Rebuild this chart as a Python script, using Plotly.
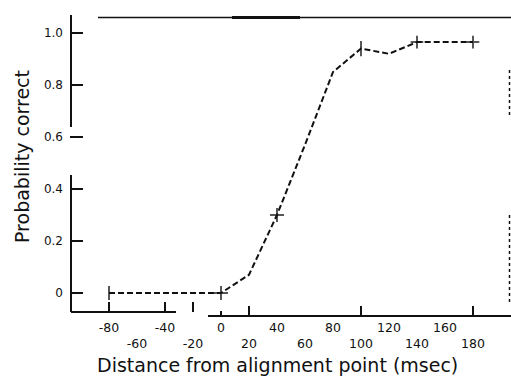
import plotly.graph_objects as go

# Psychometric data: probability correct vs. distance from the alignment point
ms = [-80, 0, 20, 40, 60, 80, 100, 120, 140, 180]
p_correct = [0.0, 0.0, 0.07, 0.30, 0.57, 0.85, 0.94, 0.92, 0.965, 0.965]

# Tick labels are staggered on two rows
x_upper_row = [-80, -40, 0, 40, 80, 120, 160]
x_lower_row = [-60, -20, 20, 60, 100, 140, 180]
y_ticks = [0, 0.2, 0.4, 0.6, 0.8, 1.0]
y_tick_labels = ["0", "0.2", "0.4", "0.6", "0.8", "1.0"]

x_title = "Distance from alignment point (msec)"
y_title = "Probability correct"

# Figure geometry (pixels)
W, H = 511, 381
L, R, T, B = 70, 1, 18, 65
PW, PH = W - L - R, H - T - B
X_RANGE = [-107.86, 206.43]
Y_RANGE = [-0.0885, 1.0577]
INK = "#111111"


def px(x):
    return (x - L) / PW


def py(y):
    return (H - B - y) / PH


# Marker symbol drawn at each measured point
marker_style = {
    -80: ("line-ns", 10),
    0: ("cross-thin", 10),
    40: ("cross-thin", 10),
    100: ("line-ns", 11),
    140: ("cross-thin", 9),
    180: ("cross-thin", 9),
}
symbols = [marker_style.get(v, ("circle", 0))[0] for v in ms]
sizes = [marker_style.get(v, ("circle", 0))[1] for v in ms]

tick_vals = sorted(x_upper_row + x_lower_row)
tick_text = [str(v) if v in x_upper_row else "<br>" + str(v) for v in tick_vals]

fig = go.Figure()
fig.add_trace(go.Scatter(
    x=ms, y=p_correct, mode="lines+markers",
    line=dict(color=INK, width=2, dash="6px,3px"),
    marker=dict(symbol=symbols, size=sizes, color=INK,
                line=dict(color=INK, width=2)),
    showlegend=False, hoverinfo="skip",
))
# empty traces so the tick-only axes are drawn
fig.add_trace(go.Scatter(x=[], y=[], xaxis="x2", showlegend=False))
fig.add_trace(go.Scatter(x=[], y=[], xaxis="x3", showlegend=False))

axis_common = dict(range=X_RANGE, showgrid=False, zeroline=False, showline=False)

fig.update_layout(
    width=W, height=H,
    margin=dict(l=L, r=R, t=T, b=B, pad=0),
    paper_bgcolor="white", plot_bgcolor="white",
    font=dict(family="DejaVu Sans", color=INK, size=12),
    xaxis=dict(**axis_common, tickmode="array", tickvals=tick_vals,
               ticktext=tick_text, ticks="", ticklabelstandoff=2,
               tickfont=dict(size=12.5, color=INK)),
    xaxis2=dict(**axis_common, overlaying="x", anchor="y",
                tickmode="array", tickvals=[20, 100, 180], ticks="inside",
                ticklen=10, tickwidth=1.5, tickcolor=INK, showticklabels=False,
                minor=dict(tickmode="array", tickvals=[0], ticks="inside",
                           ticklen=5, tickwidth=1.5, tickcolor=INK)),
    xaxis3=dict(**axis_common, overlaying="x", anchor="free",
                position=py(312), tickmode="array", tickvals=[-80, -40, -20],
                ticks="inside", ticklen=10, tickwidth=1.5, tickcolor=INK,
                showticklabels=False),
    yaxis=dict(range=Y_RANGE, showgrid=False, zeroline=False, showline=False,
               tickmode="array", tickvals=y_ticks, ticktext=y_tick_labels,
               ticks="inside", ticklen=13, tickwidth=2, tickcolor=INK,
               ticklabelstandoff=6, tickfont=dict(size=12, color=INK)),
)


def seg(x0, y0, x1, y1, width=2, dash="solid"):
    fig.add_shape(type="line", xref="paper", yref="paper",
                  x0=px(x0), y0=py(y0), x1=px(x1), y1=py(y1),
                  line=dict(color=INK, width=width, dash=dash))


# axis lines and frame
seg(71, 15, 71, 127)
seg(71, 175, 71, 312)
seg(71, 312, 176, 312)
seg(208, 316, 511, 316)
seg(98, 17.5, 511, 17.5, width=1.5)
seg(232, 17.5, 300, 17.5, width=3)
seg(509.5, 70, 509.5, 115, width=1.5, dash="dot")
seg(509.5, 215, 509.5, 305, width=1.5, dash="dot")

fig.add_annotation(text=x_title, xref="paper", yref="paper",
                   x=px(277), y=py(365), xanchor="center", yanchor="middle",
                   showarrow=False, font=dict(size=19, color=INK))
fig.add_annotation(text=y_title, xref="paper", yref="paper", textangle=-90,
                   x=px(22), y=py(157), xanchor="center", yanchor="middle",
                   showarrow=False, font=dict(size=19, color=INK))

fig.write_html("out.html")
